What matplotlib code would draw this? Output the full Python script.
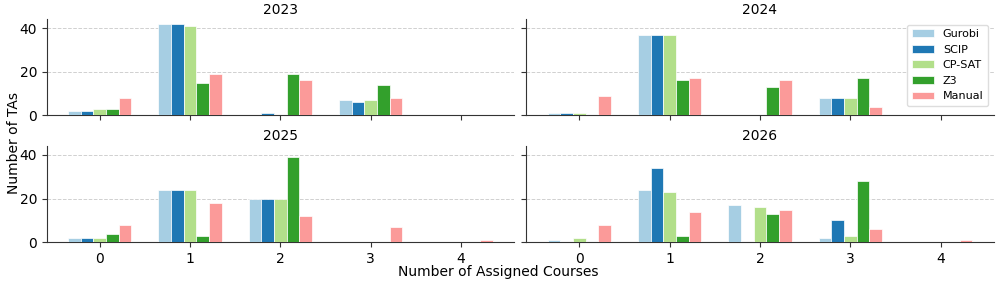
import numpy as np
import matplotlib.pyplot as plt

## data
years = ["2023", "2024", "2025", "2026"]
courses = [0, 1, 2, 3, 4]
solvers = ["Gurobi", "SCIP", "CP-SAT", "Z3", "Manual"]
colors = ["#a6cee3", "#1f78b4", "#b2df8a", "#33a02c", "#fb9a99"]

## counts per solver, index = number of assigned courses
counts_2023 = {
    "Gurobi": [2, 42, 0, 7, 0],
    "SCIP":   [2, 42, 1, 6, 0],
    "CP-SAT": [3, 41, 0, 7, 0],
    "Z3":     [3, 15, 19, 14, 0],
    "Manual": [8, 19, 16, 8, 0],
}
counts_2024 = {
    "Gurobi": [1, 37, 0, 8, 0],
    "SCIP":   [1, 37, 0, 8, 0],
    "CP-SAT": [1, 37, 0, 8, 0],
    "Z3":     [0, 16, 13, 17, 0],
    "Manual": [9, 17, 16, 4, 0],
}
counts_2025 = {
    "Gurobi": [2, 24, 20, 0, 0],
    "SCIP":   [2, 24, 20, 0, 0],
    "CP-SAT": [2, 24, 20, 0, 0],
    "Z3":     [4, 3, 39, 0, 0],
    "Manual": [8, 18, 12, 7, 1],
}
counts_2026 = {
    "Gurobi": [1, 24, 17, 2, 0],
    "SCIP":   [0, 34, 0, 10, 0],
    "CP-SAT": [2, 23, 16, 3, 0],
    "Z3":     [0, 3, 13, 28, 0],
    "Manual": [8, 14, 15, 6, 1],
}
all_counts = [counts_2023, counts_2024, counts_2025, counts_2026]

width = 0.14
x = np.array(courses)

fig, axes = plt.subplots(2, 2, figsize=(9.96, 2.85), dpi=100, sharex=True, sharey=True)

for ax, year, counts in zip(axes.flat, years, all_counts):
    for i, s in enumerate(solvers):
        ax.bar(x + (i - 2) * width, counts[s], width, color=colors[i],
               edgecolor="white", linewidth=0.5, label=s, zorder=3)
    ax.set_title(year, fontsize=10, pad=4)
    ax.set_xticks(courses)
    ax.grid(axis="y", linestyle="--", color="#d0d0d0", linewidth=0.7, zorder=0)
    ax.spines["top"].set_visible(False)
    ax.spines["right"].set_visible(False)
    for sp in ["left", "bottom"]:
        ax.spines[sp].set_color("#333333")
    ax.tick_params(colors="#333333", labelcolor="black", labelsize=10)

axes[0, 1].legend(loc="upper right", fontsize=8, framealpha=1, edgecolor="#dddddd")
fig.supylabel("Number of TAs", fontsize=10, x=0.007)
fig.supxlabel("Number of Assigned Courses", fontsize=10, y=0.02)

fig.subplots_adjust(left=0.047, right=0.9975, top=0.933, bottom=0.15,
                    wspace=0.027, hspace=0.318)
plt.savefig("out.png")
